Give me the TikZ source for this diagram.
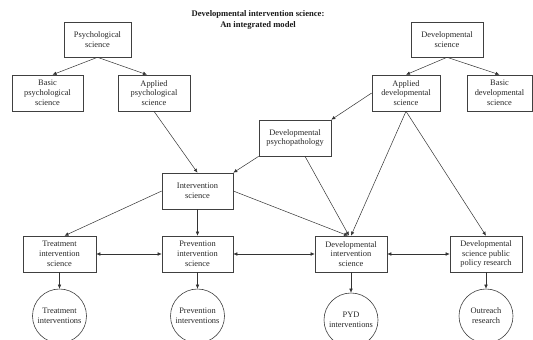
\documentclass[tikz,border=0pt]{standalone}
\usepackage{fontspec}
\setmainfont{Liberation Serif}
\usetikzlibrary{arrows.meta}
\begin{document}
\begin{tikzpicture}[x=1pt,y=-1pt,
  box/.style={draw=black!75, line width=0.6pt, rectangle, minimum width=72pt, minimum height=36pt,
    inner sep=1pt, align=center, font=\fontsize{8.4}{9.8}\selectfont, text=black!85},
  circ/.style={draw=black!75, line width=0.6pt, circle, minimum size=54pt, inner sep=0pt,
    align=center, font=\fontsize{8.4}{9.8}\selectfont, text=black!85},
  arr/.style={draw=black!80, line width=0.5pt, -{Latex[length=4pt,width=3.6pt]}},
  darr/.style={draw=black!80, line width=0.5pt, {Latex[length=4pt,width=3.6pt]}-{Latex[length=4pt,width=3.6pt]}}
]
\useasboundingbox (0,0) rectangle (533,340);
\begin{scope}
\clip (0,0) rectangle (533,340);
\node[font=\bfseries\fontsize{8.6}{11}\selectfont, align=center, text=black!90] (title) at (258,20)
  {Developmental intervention science:\\An integrated model};

\node[box, minimum width=67pt, minimum height=35pt] (ps) at (97.5,39.5) {Psychological\\science};
\node[box, minimum width=71pt] (bps) at (47.5,93) {Basic\\psychological\\science};
\node[box] (aps) at (154,93) {Applied\\psychological\\science};
\node[box, minimum height=35pt] (ds) at (447,39.5) {Developmental\\science};
\node[box, minimum width=68pt] (ads) at (406,93) {Applied\\developmental\\science};
\node[box, minimum width=65pt] (bds) at (499.5,93) {Basic\\developmental\\science};
\node[box] (dp) at (295,138) {Developmental\\psychopathology};
\node[box, minimum width=71pt] (is) at (197.5,191) {Intervention\\science};
\node[box, minimum width=73pt] (tis) at (59.5,254) {Treatment\\intervention\\science};
\node[box, minimum width=71pt] (pis) at (197.5,254) {Prevention\\intervention\\science};
\node[box] (dis) at (351,254) {Developmental\\intervention\\science};
\node[box] (dspp) at (486,254) {Developmental\\science public\\policy research};

\node[circ] (ti) at (59.5,316) {Treatment\\interventions};
\node[circ] (pi) at (197.5,316) {Prevention\\interventions};
\node[circ] (pyd) at (351,320) {PYD\\interventions};
\node[circ] (or) at (486,316) {Outreach\\research};

\draw[arr] (ps.south) -- ([xshift=5pt]bps.north);
\draw[arr] (ps.south) -- ([xshift=-7pt]aps.north);
\draw[arr] (ds.south) -- (ads.north);
\draw[arr] (ds.south) -- (bds.north);
\draw[arr] (ads.west) -- (dp.north east);
\draw[arr] (aps.south) -- (is.north);
\draw[arr] (dp.south west) -- (is.north east);
\draw[arr] (is.west) -- ([xshift=5pt]tis.north);
\draw[arr] (is.south) -- (pis.north);
\draw[arr] (is.east) -- ([xshift=-3pt]dis.north);
\draw[arr] ([xshift=10pt]dp.south) -- ([xshift=-2pt]dis.north);
\draw[arr] (ads.south) -- (dis.north);
\draw[arr] (ads.south) -- (dspp.north);

\draw[darr] (tis.east) -- (pis.west);
\draw[darr] (pis.east) -- (dis.west);
\draw[darr] (dis.east) -- (dspp.west);

\draw[arr] (tis.south) -- (ti.north);
\draw[arr] (pis.south) -- (pi.north);
\draw[arr] (dis.south) -- (pyd.north);
\draw[arr] (dspp.south) -- (or.north);
\end{scope}
\end{tikzpicture}
\end{document}
